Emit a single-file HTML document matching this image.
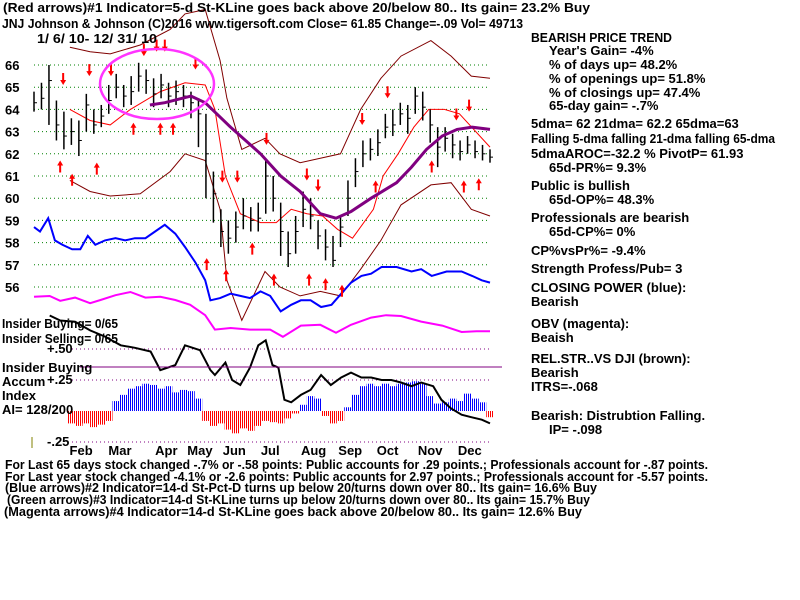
<!DOCTYPE html>
<html><head><meta charset="utf-8"><style>
html,body{margin:0;padding:0;background:#fff;width:800px;height:600px;overflow:hidden}
svg{display:block}
text{font-family:"Liberation Sans Narrow","Liberation Sans",sans-serif;font-weight:bold;font-size:13px;fill:#000}
</style></head><body>
<svg id="chart" width="800" height="600" viewBox="0 0 800 600" xmlns="http://www.w3.org/2000/svg">
<defs>
<pattern id="pb" width="2" height="4" patternUnits="userSpaceOnUse"><rect width="1" height="4" fill="#0000ff"/></pattern>
<pattern id="pr" width="2" height="4" patternUnits="userSpaceOnUse"><rect width="1" height="4" fill="#ff0000"/></pattern>
</defs>
<g id="grid"></g>
<g id="ylabels"></g>
<g id="marks"></g>
<ellipse cx="157" cy="84" rx="57" ry="35" fill="none" stroke="#ff33ff" stroke-width="2.5"/>
<line x1="80" y1="367" x2="502" y2="367" stroke="#800080" stroke-width="1"/>
<line x1="32" y1="437" x2="32" y2="448" stroke="#808000" stroke-width="1"/>
<g>
<text x="3" y="12" textLength="587" lengthAdjust="spacingAndGlyphs">(Red arrows)#1 Indicator=5-d St-KLine goes back above 20/below 80.. Its gain= 23.2% Buy</text>
<text x="2" y="28" textLength="521" lengthAdjust="spacingAndGlyphs">JNJ   Johnson &amp; Johnson   (C)2016 www.tigersoft.com    Close=  61.85  Change=-.09 Vol= 49713</text>
<text x="37" y="43" textLength="120" lengthAdjust="spacingAndGlyphs">1/ 6/ 10- 12/ 31/ 10</text>
</g>
<g>
<text x="2" y="328" textLength="116" lengthAdjust="spacingAndGlyphs">Insider Buying= 0/65</text>
<text x="2" y="343" textLength="116" lengthAdjust="spacingAndGlyphs">Insider Selling= 0/65</text>
<text x="47" y="353">+.50</text>
<text x="2" y="372">Insider Buying</text>
<text x="2" y="386">Accum</text>
<text x="47" y="384">+.25</text>
<text x="2" y="400">Index</text>
<text x="2" y="414">AI= 128/200</text>
<text x="47" y="446">-.25</text>
</g>
<g id="months"></g>
<g font-size="12">
<text x="531" y="42" textLength="141" lengthAdjust="spacingAndGlyphs">BEARISH PRICE TREND</text>
<text x="549" y="55">Year's Gain= -4%</text>
<text x="549" y="69">% of days up= 48.2%</text>
<text x="549" y="83">% of openings up= 51.8%</text>
<text x="549" y="97">% of closings up= 47.4%</text>
<text x="549" y="110">65-day gain= -.7%</text>
<text x="531" y="128">5dma= 62 21dma= 62.2 65dma=63</text>
<text x="531" y="143" textLength="244" lengthAdjust="spacingAndGlyphs">Falling 5-dma  falling 21-dma  falling 65-dma</text>
<text x="531" y="158">5dmaAROC=-32.2 %  PivotP= 61.93</text>
<text x="549" y="172">65d-PR%= 9.3%</text>
<text x="531" y="190">Public is bullish</text>
<text x="549" y="204">65d-OP%= 48.3%</text>
<text x="531" y="222">Professionals are bearish</text>
<text x="549" y="236">65d-CP%= 0%</text>
<text x="531" y="255">CP%vsPr%= -9.4%</text>
<text x="531" y="273">Strength Profess/Pub= 3</text>
<text x="531" y="292">CLOSING POWER (blue):</text>
<text x="531" y="306">Bearish</text>
<text x="531" y="328">OBV (magenta):</text>
<text x="531" y="342">Beaish</text>
<text x="531" y="363">REL.STR..VS DJI (brown):</text>
<text x="531" y="377">Bearish</text>
<text x="531" y="391">ITRS=-.068</text>
<text x="531" y="420">Bearish: Distrubtion Falling.</text>
<text x="549" y="434">IP= -.098</text>
</g>
<g font-size="12">
<text x="5" y="469" textLength="703" lengthAdjust="spacingAndGlyphs">For Last 65 days stock changed -.7% or -.58 points:  Public accounts for  .29 points.;  Professionals account for -.87 points.</text>
<text x="5" y="481" textLength="703" lengthAdjust="spacingAndGlyphs">For Last year stock changed -4.1% or -2.6 points:  Public accounts for  2.97 points.;  Professionals account for -5.57 points.</text>
<text x="5" y="492" textLength="592" lengthAdjust="spacingAndGlyphs">(Blue arrows)#2 Indicator=14-d St-Pct-D turns up below 20/turns down over 80.. Its gain= 16.6% Buy</text>
<text x="7" y="504" textLength="583" lengthAdjust="spacingAndGlyphs">(Green arrows)#3 Indicator=14-d St-KLine turns up below 20/turns down over 80.. Its gain= 15.7% Buy</text>
<text x="4" y="516" textLength="578" lengthAdjust="spacingAndGlyphs">(Magenta arrows)#4 Indicator=14-d St-KLine goes back above 20/below 80.. Its gain= 12.6% Buy</text>
</g>
</svg>
<script>
const closes=[64.3,64.5,65.3,63.3,62.8,63,62.6,64.2,63.3,63.7,64.4,65,64.6,64.8,65.5,65.3,64.7,65.1,64.6,64.8,64.6,64.3,63.8,62,60.2,58.5,58.2,58.7,59.2,59,59.1,61,60,58.5,57.5,58.5,59.5,59.2,58.3,57.8,57.2,58.7,60,61.2,62,62.2,62.5,63.2,63.3,63.8,63.6,64.6,64.1,63.3,62.3,62.7,62.4,62.1,62.4,62.1,62,61.85];
const highs=[64.8,65.2,66,64.4,63.9,63.6,63.5,64.7,64,64.2,65.1,65.6,65.1,65.5,66.1,65.8,65.4,65.6,65.2,65.3,65.1,64.8,64.5,63.8,61.2,59.5,59,59.4,60,59.6,59.8,61.8,61,59.8,58.5,59.2,60.3,60,59,58.6,58.3,59.2,60.8,61.8,62.6,62.7,63.1,63.8,64,64.3,64.2,65,64.8,64,63.2,63.2,62.9,62.6,62.8,62.6,62.4,62.2];
const lows=[63.9,64,63.3,62.6,62.2,62.4,61.9,63,62.9,63.2,63.8,64.5,64.1,64.2,64.8,64.7,64.1,64.5,64.1,64.2,64.1,63.6,62.3,60,58.9,57.8,57.5,58,58.6,58.5,58.5,59.3,59.4,57.4,56.9,57.5,58.7,58.6,57.7,57.2,56.9,57.8,59.2,60.5,61.4,61.7,61.9,62.7,62.8,63.3,62.9,63.8,63.5,62.5,61.4,62.1,61.8,61.7,62,61.8,61.7,61.6];
const bandIdx=[4.8,7.5,10.2,14.2,18.2,20.2,22.9,24.9,25.8,27.8,30.9,32.9,35.6,38.3,41,43.7,46.4,49.1,53.1,55.8,58.5,61];
const upperBand=[66.8,66.6,66.5,66.9,67.6,68.3,68.5,66.2,64.5,62.2,62.7,62,61.6,61.8,62,64,65.4,66.4,67.1,66.4,65.5,65.4];
const lowerBand=[60.8,60.3,60.1,60.2,61.2,62,61.7,59.5,56.3,54.5,56.7,56,55.6,55.8,55.6,56.8,58.1,59.7,60.6,60.7,59.5,59.2];
const maIdx=[4.8,7.5,10.2,12.9,16.9,20.2,22.9,24.2,25.6,27.6,30.3,32.4,34.4,36.5,38.6,40.6,42.6,45.4,46.7,48.7,50.8,52.8,54.9,56.9,61];
const ma21=[64,63.5,63.3,64,64.8,65.2,65.1,64,61,59.3,58.9,58.9,59.5,59.3,59.2,58.6,58.2,59.5,61,62,63.2,64,64,63.8,62.3];
const ma65Idx=[15.5,17.5,21,22.9,26.3,30.3,33,35.6,38.3,40.4,42.4,45.1,48.5,50.5,52.5,54.6,56.6,58.6,61];
const ma65=[64.2,64.3,64.6,64.3,63.2,62,61,60.3,59.3,59.1,59.4,60,60.7,61.4,62.2,62.8,63.1,63.2,63.1];
const cpIdx=[0,0.8,1.9,2.8,3.8,5.1,6.2,7.2,8.2,9.5,10.9,12.2,13.5,14.9,16.2,17.5,18.9,20.2,21.6,22.9,23.6,24.9,26.3,27.6,28.9,30.3,31.6,33,34.4,35.7,37,38.4,39.8,41.1,42.4,43.8,45.1,46.5,48.5,50.5,51.8,53.2,55.2,57.2,58.6,59.9,61];
const cpVals=[58.7,58.5,59.1,58.1,57.9,57.7,57.7,58.3,57.9,58.1,58.2,58.1,58.2,58.2,58.5,58.8,58.4,57.8,57.1,56.3,55.4,55.5,55.7,55.6,55.5,55.8,55.6,54.9,55.2,55.4,55.4,55.1,55.2,55.7,56.2,56.5,56.6,56.9,56.9,56.7,56.8,56.5,56.7,56.7,56.5,56.3,56.2];
const obvIdx=[0,2.1,3.5,5.5,7.5,8.9,10.9,12.9,14.9,16.9,18.9,20.9,22.9,24.2,26.3,28.9,31.6,33.3,35.7,38.3,40.4,42.4,45.1,47.1,49.1,51.8,54.6,57.2,59.2,61];
const obvVals=[5.4,5.5,4.9,5.3,4.6,5.0,5.6,6.0,5.3,5.4,5.0,4.4,3.1,1.3,1.5,1.3,1.3,0.4,1.8,1.9,0.9,1.9,2.8,3.1,3.0,2.3,1.8,1.0,1.1,1.1];
const aiIdx=[2.1,3.5,5.5,7.5,9.5,11.6,13.5,15.6,16.9,18.9,20.2,22.2,23.6,24.2,25.6,26.5,27.6,28.9,30,31,31.9,32.7,33.5,34.4,35.7,37,38.4,39.7,41.1,42.4,43.8,45.1,46.5,47.8,49.1,50.5,51.8,53.4,54.5,55.8,57.2,58.5,59.9,61];
const aiVals=[0.77,0.73,0.72,0.65,0.6,0.53,0.51,0.48,0.33,0.37,0.53,0.49,0.33,0.29,0.39,0.25,0.21,0.35,0.53,0.57,0.37,0.35,0.09,0.07,0.13,0.17,0.29,0.21,0.27,0.31,0.27,0.27,0.25,0.25,0.23,0.2,0.23,0.2,0.09,0.02,-0.03,-0.05,-0.07,-0.1];
const accHist=[0,0,0,0,0,-0.10,-0.12,-0.10,-0.13,-0.11,-0.08,0.08,0.13,0.18,0.2,0.22,0.21,0.18,0.2,0.15,0.17,0.16,0.1,-0.08,-0.12,-0.1,-0.15,-0.18,-0.14,-0.16,-0.12,-0.08,-0.09,-0.1,-0.06,-0.02,0.05,0.12,0.1,-0.04,-0.1,-0.08,0.03,0.13,0.2,0.22,0.2,0.22,0.2,0.22,0.23,0.24,0.22,0.12,0.06,0.07,0.1,0.08,0.14,0.1,0.07,-0.05];
const downArrowIdx=[3.9,7.4,10.3,14.7,16.4,17.5,21.6,25.2,27.2,31.1,36.5,38,43.9,47.3,56.5,58.2];
const downArrowPrice=[65.1,65.5,65.5,66.4,66.6,66.6,65.8,60.7,60.7,62.4,60.8,60.3,63.3,64.5,63.5,63.9];
const upArrowIdx=[3.5,5.1,8.4,13.3,16.9,18.6,23.1,25.7,29.2,32.1,36.8,39,41.2,45.7,53.2,57.5,59.5];
const upArrowPrice=[61.7,61.1,61.6,63.4,63.4,63.4,57.3,56.8,58,56.6,56.6,56.4,56.1,60.8,61.7,60.8,60.9];
const priceTicks=[66,65,64,63,62,61,60,59,58,57,56];
const months=["Feb","Mar","Apr","May","Jun","Jul","Aug","Sep","Oct","Nov","Dec"];
const monthIdx=[6.3,11.5,17.7,22.2,26.8,31.6,37.4,42.3,47.3,53,58.3];

const NS="http://www.w3.org/2000/svg";
const X0=34,X1=490,N=closes.length;
const xS=i=>X0+i*(X1-X0)/(N-1);
const yP=p=>65+(66-p)*22.2;
const yObv=v=>340-v*8;
const yAI=v=>411-v*124;
function mk(tag,attrs,parent){const e=document.createElementNS(NS,tag);for(const k in attrs)e.setAttribute(k,attrs[k]);parent.appendChild(e);return e;}
const grid=document.getElementById('grid'),ylab=document.getElementById('ylabels'),marks=document.getElementById('marks'),mon=document.getElementById('months');
priceTicks.forEach(t=>{
 const l=mk('line',{x1:X0,x2:X1,y1:yP(t),y2:yP(t),stroke:'#008000','stroke-dasharray':'1 3'},grid);
 
 
 const tx=mk('text',{x:5,y:yP(t)+5},ylab);tx.textContent=String(t);
 
 
});
[0.5,0.25,-0.25].forEach(v=>{
 const l=mk('line',{x1:72,x2:X1,y1:yAI(v)-(v<0?0:0),y2:yAI(v),stroke:'#800080','stroke-dasharray':'1 3'},grid);
 
 
});
months.forEach((m,i)=>{
 const t=mk('text',{x:xS(monthIdx[i]),y:455,'text-anchor':'middle','font-size':'12'},mon);t.textContent=m;
 
 
});
function poly(idx,vals,yf,attrs,name){
 const pts=idx.map((ix,i)=>xS(ix).toFixed(1)+','+yf(vals[i]).toFixed(1)).join(' ');
 const p=mk('polyline',Object.assign({points:pts,fill:'none'},attrs),marks);
 
 
 return p;
}
// histogram
accHist.forEach((v,i)=>{
 if(v===0)return;
 const w=(X1-X0)/(N-1);const y0=yAI(0),y1=yAI(v);
 const r=mk('rect',{x:xS(i)-w/2,y:Math.min(y0,y1),width:w,height:Math.abs(y1-y0),fill:v>0?'url(#pb)':'url(#pr)'},marks);
 
 
});
poly(aiIdx,aiVals,yAI,{stroke:'#000','stroke-width':2},'accum-index-line');
poly(obvIdx,obvVals,yObv,{stroke:'#ff00ff','stroke-width':2},'obv-line');
poly(bandIdx,upperBand,yP,{stroke:'#800000','stroke-width':1},'upper-band');
poly(bandIdx,lowerBand,yP,{stroke:'#800000','stroke-width':1},'lower-band');
poly(maIdx,ma21,yP,{stroke:'#ff0000','stroke-width':1},'ma21-line');
poly(cpIdx,cpVals,yP,{stroke:'#0000ff','stroke-width':2},'closing-power-line');
// price bars
closes.forEach((c,i)=>{
 const x=xS(i);
 const l=mk('line',{x1:x,x2:x,y1:yP(highs[i]),y2:yP(lows[i]),stroke:'#000','stroke-width':1.5},marks);
 
 
 const t=mk('line',{x1:x,x2:x+3,y1:yP(c),y2:yP(c),stroke:'#000','stroke-width':1},marks);
 
 
});
poly(ma65Idx,ma65,yP,{stroke:'#800080','stroke-width':3},'ma65-line');
function arrow(x,y,up){
 const d=up?`M${x},${y} l-3,5 h2 v7 h2 v-7 h2 z`:`M${x},${y} l-3,-5 h2 v-7 h2 v7 h2 z`;
 return mk('path',{d:d,fill:'#ff0000'},marks);
}
downArrowIdx.forEach((ix,i)=>{
 const a=arrow(xS(ix),yP(downArrowPrice[i]),false);
 
 
});
upArrowIdx.forEach((ix,i)=>{
 const a=arrow(xS(ix),yP(upArrowPrice[i]),true);
 
 
});
</script>
</body></html>
